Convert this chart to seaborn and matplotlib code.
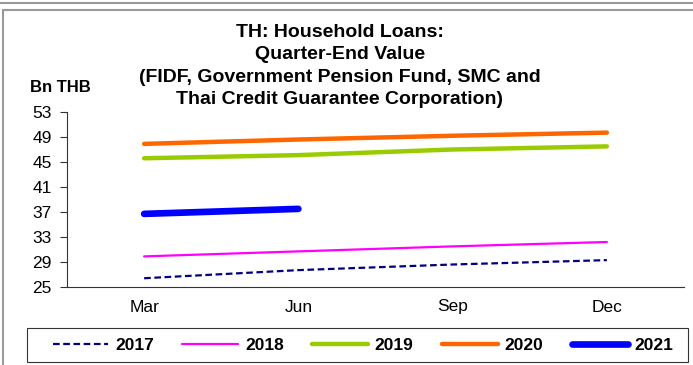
import matplotlib
matplotlib.use('Agg')
import matplotlib.pyplot as plt
import seaborn as sns
import pandas as pd
from matplotlib.lines import Line2D
from matplotlib.patches import Rectangle

# Values (Bn THB, quarter-end)
quarters = ['Mar', 'Jun', 'Sep', 'Dec']
years = ['2017', '2018', '2019', '2020', '2021']
v2017 = [26.4, 27.7, 28.6, 29.3]
v2018 = [29.9, 30.7, 31.5, 32.2]
v2019 = [45.6, 46.1, 47.0, 47.5]
v2020 = [47.9, 48.6, 49.2, 49.7]
v2021 = [36.7, 37.5]
yticks = [25, 29, 33, 37, 41, 45, 49, 53]

series = [v2017, v2018, v2019, v2020, v2021]
colors = ['#000080', '#FF00FF', '#99CC00', '#FF6600', '#0000FF']
widths = [1.6, 1.6, 3.2, 3.2, 4.8]
styles = [(0, (3, 1.6)), '-', '-', '-', '-']

sns.set_style('white', {'text.color': 'black', 'xtick.color': 'black', 'ytick.color': 'black'})
plt.rcParams['font.family'] = ['Liberation Sans', 'DejaVu Sans']

fig = plt.figure(figsize=(6.93, 3.65), dpi=100)
ax = fig.add_axes([67 / 693, 1 - 287 / 365, (684 - 67) / 693, 175 / 365])

for yr, vals, c, lw, ls in zip(years, series, colors, widths, styles):
    df = pd.DataFrame({'quarter': quarters[:len(vals)], 'value': vals})
    sns.lineplot(data=df, x='quarter', y='value', color=c, linewidth=lw,
                 linestyle=ls, ax=ax, label=yr, legend=False,
                 solid_capstyle='round', dash_capstyle='butt')

ax.set_xlim(-0.5, 3.5)
ax.set_ylim(25, 53)
ax.set_yticks(yticks)
ax.set_xticks(range(4))
ax.set_xticklabels(quarters)
ax.set_xticks([-0.5, 0.5, 1.5, 2.5, 3.5], minor=True)
ax.tick_params(axis='x', which='major', length=0, pad=9, labelsize=12.5, labelcolor='black')
ax.tick_params(axis='x', which='minor', length=5, width=0.8, color='#333333', direction='out')
ax.tick_params(axis='y', length=5, width=0.8, color='#333333', direction='out', labelsize=12.5,
               pad=6, labelcolor='black')
ax.tick_params(left=True, bottom=True)
ax.set_xlabel('')
ax.set_ylabel('')
for s in ['top', 'right']:
    ax.spines[s].set_visible(False)
for s in ['left', 'bottom']:
    ax.spines[s].set_color('#333333')
    ax.spines[s].set_linewidth(0.8)

fig.text(340 / 693, 1 - 66 / 365,
         'TH: Household Loans:\nQuarter-End Value\n(FIDF, Government Pension Fund, SMC and\nThai Credit Guarantee Corporation)',
         ha='center', va='center', fontsize=14, fontweight='bold', linespacing=1.42, color='black')
fig.text(60 / 693, 1 - 88 / 365, 'Bn THB', ha='center', va='center',
         fontsize=12, fontweight='bold', color='black')

# legend box drawn separately, entries centred inside it
fig.add_artist(Rectangle((27 / 693, 1 - 362 / 365), 661 / 693, 34 / 365, transform=fig.transFigure,
                         fill=False, edgecolor='#333333', lw=0.8))
handles = [Line2D([], [], color=c, lw=lw, ls=ls) for c, lw, ls in zip(colors, widths, styles)]
leg = fig.legend(handles, years, loc='center', bbox_to_anchor=(363 / 693, 1 - 345 / 365),
                 ncol=5, frameon=False, handlelength=3.2, columnspacing=1.65,
                 handletextpad=0.4, borderpad=0.0, borderaxespad=0,
                 prop={'weight': 'bold', 'size': 12.5}, labelcolor='black')

# outer frame lines
fig.add_artist(Line2D([0, 1], [1 - 3 / 365, 1 - 3 / 365], color='#999999', lw=1.5, transform=fig.transFigure))
fig.add_artist(Line2D([3 / 693, 1], [1 - 10 / 365, 1 - 10 / 365], color='#999999', lw=1.5, transform=fig.transFigure))
fig.add_artist(Line2D([3 / 693, 3 / 693], [0, 1 - 10 / 365], color='#999999', lw=1.5, transform=fig.transFigure))

fig.savefig('out.png', dpi=100)
